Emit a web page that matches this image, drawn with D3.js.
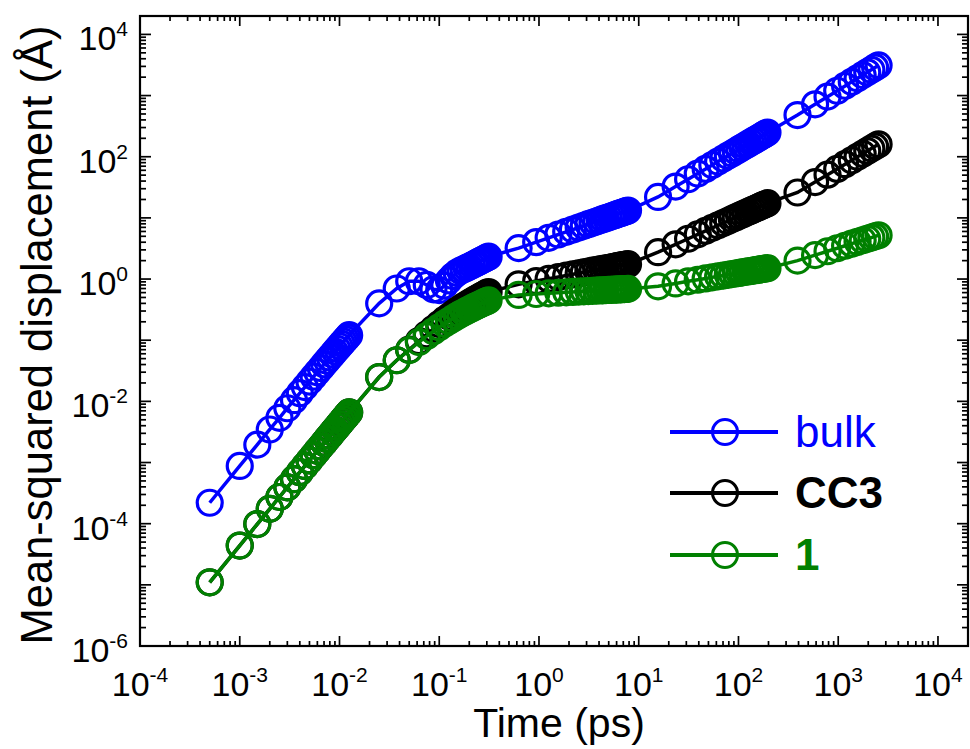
<!DOCTYPE html>
<html><head><meta charset="utf-8">
<script src="https://cdn.jsdelivr.net/npm/d3@7"></script>
<style>body{margin:0;background:#fff}svg{display:block}text{font-family:"Liberation Sans",Arial,sans-serif}</style>
</head><body>
<svg id="c" width="970" height="749"></svg>
<script>
const time = [
0.0005,0.001,0.0015,0.002,0.0025,0.003,0.0035,0.004,0.0045,0.005,0.0055,0.006,0.0065,0.007,0.0075,0.008,0.0085,0.009,0.0095,0.01,0.0105,0.011,0.0115,0.012,0.0125,
0.025,0.0375,0.05,0.0625,0.075,0.0875,0.1,0.1125,0.125,0.1375,0.15,0.1625,0.175,0.1875,0.2,0.2125,0.225,0.2375,0.25,0.2625,0.275,0.2875,0.3,0.3125,
0.625,0.9375,1.25,1.5625,1.875,2.1875,2.5,2.8125,3.125,3.4375,3.75,4.0625,4.375,4.6875,5,5.3125,5.625,5.9375,6.25,6.5625,6.875,7.1875,7.5,7.8125,
15.625,23.4375,31.25,39.0625,46.875,54.6875,62.5,70.3125,78.125,85.9375,93.75,101.5625,109.375,117.1875,125,132.8125,140.625,148.4375,156.25,164.0625,171.875,179.6875,187.5,195.3125,
390.625,585.9375,781.25,976.5625,1171.875,1367.1875,1562.5,1757.8125,1953.125,2148.4375,2343.75,2539.0625];

const bulk = [
2.2e-4,8.8e-4,1.96e-3,3.47e-3,5.39e-3,7.72e-3,1.046e-2,1.359e-2,1.711e-2,2.101e-2,2.529e-2,2.994e-2,3.495e-2,4.032e-2,4.604e-2,5.21e-2,5.849e-2,6.522e-2,7.227e-2,7.964e-2,8.732e-2,9.53e-2,0.1036,0.1121,0.121,
0.40,0.70,0.92,0.92,0.80,0.68,0.66,0.78,0.95,1.12,1.26,1.36,1.44,1.52,1.60,1.68,1.76,1.84,1.92,2.00,2.08,2.16,2.24,2.32,
3.20,4.02,4.72,5.35,5.92,6.45,6.96,7.43,7.88,8.31,8.73,9.13,9.51,9.89,10.25,10.61,10.95,11.29,11.62,11.94,12.26,12.56,12.87,13.16,
22.0,32.5,42.8,53.0,63.2,73.2,83.3,93.2,103.2,113,122.9,132.7,142.5,152.2,162,171.7,181.3,191,200.6,210.3,219.9,229.5,239,248.6,
480,720,960,1200,1440,1680,1920,2160,2400,2640,2880,3120];

const cc3 = [
1.1e-5,4.39e-5,9.86e-5,1.75e-4,2.73e-4,3.926e-4,5.335e-4,6.956e-4,8.789e-4,1.083e-3,1.308e-3,1.554e-3,1.821e-3,2.108e-3,2.416e-3,2.744e-3,3.093e-3,3.461e-3,3.849e-3,4.258e-3,4.686e-3,5.134e-3,5.601e-3,6.088e-3,6.594e-3,
0.025,0.047,0.070,0.097,0.125,0.154,0.184,0.215,0.243,0.272,0.301,0.330,0.358,0.382,0.407,0.431,0.455,0.478,0.502,0.524,0.547,0.570,0.592,0.614,
0.82,0.926,1.009,1.079,1.140,1.194,1.243,1.288,1.329,1.368,1.404,1.438,1.470,1.501,1.530,1.558,1.585,1.611,1.636,1.660,1.684,1.706,1.728,1.749,
2.75,3.70,4.56,5.37,6.13,6.86,7.57,8.25,8.90,9.54,10.17,10.78,11.38,11.97,12.55,13.12,13.68,14.23,14.77,15.30,15.83,16.35,16.87,17.38,
26,38.5,50.9,63.2,75.5,87.6,99.8,111.9,123.9,135.9,147.8,159.8];

const one = [
1.1e-5,4.39e-5,9.86e-5,1.75e-4,2.73e-4,3.926e-4,5.335e-4,6.956e-4,8.789e-4,1.083e-3,1.308e-3,1.554e-3,1.821e-3,2.108e-3,2.416e-3,2.744e-3,3.093e-3,3.461e-3,3.849e-3,4.258e-3,4.686e-3,5.134e-3,5.601e-3,6.088e-3,6.594e-3,
0.025,0.047,0.069,0.093,0.117,0.140,0.163,0.185,0.206,0.227,0.247,0.266,0.284,0.301,0.318,0.334,0.350,0.365,0.380,0.394,0.408,0.422,0.435,0.448,
0.550,0.570,0.585,0.597,0.607,0.616,0.623,0.630,0.636,0.641,0.646,0.651,0.655,0.659,0.663,0.667,0.670,0.674,0.677,0.680,0.682,0.685,0.688,0.690,
0.76,0.848,0.917,0.973,1.022,1.066,1.105,1.141,1.174,1.204,1.233,1.260,1.285,1.309,1.332,1.354,1.375,1.396,1.415,1.434,1.452,1.470,1.487,1.503,
2.00,2.46,2.85,3.19,3.50,3.79,4.06,4.31,4.54,4.77,4.99,5.20];

const seriesNames = ["bulk","CC3","1"];
const seriesColors = ["#0000ff","#000000","#008000"];
const seriesWeights = ["normal","bold","bold"];
const seriesValues = [bulk, cc3, one];

const xTickExps = [-4,-3,-2,-1,0,1,2,3,4];
const yTickExps = [-6,-4,-2,0,2,4];
const xDomain = [1e-4, 2e4];
const yDomain = [1e-6, 2e4];

const L = 140, R = 968, T = 16, B = 646;
const svg = d3.select("#c");
const x = d3.scaleLog().domain(xDomain).range([L, R]);
const y = d3.scaleLog().domain(yDomain).range([B, T]);

function logTicks(dom) {
  const maj = [], min = [];
  const e0 = Math.floor(Math.log10(dom[0])), e1 = Math.ceil(Math.log10(dom[1]));
  for (let e = e0; e <= e1; e++) {
    for (let m = 1; m <= 9; m++) {
      const v = m * Math.pow(10, e);
      if (v < dom[0] * 0.999 || v > dom[1] * 0.999) continue;
      (m === 1 ? maj : min).push(v);
    }
  }
  return {maj, min};
}
const xt = logTicks(xDomain), yt = logTicks(yDomain);
const tk = svg.append("g").attr("stroke", "#000").attr("stroke-width", 1.7);
xt.maj.forEach(v => { const px = x(v);
  tk.append("line").attr("x1", px).attr("x2", px).attr("y1", B).attr("y2", B - 10);
  tk.append("line").attr("x1", px).attr("x2", px).attr("y1", T).attr("y2", T + 10); });
xt.min.forEach(v => { const px = x(v);
  tk.append("line").attr("x1", px).attr("x2", px).attr("y1", B).attr("y2", B - 5);
  tk.append("line").attr("x1", px).attr("x2", px).attr("y1", T).attr("y2", T + 5); });
yt.maj.forEach(v => { const py = y(v);
  tk.append("line").attr("y1", py).attr("y2", py).attr("x1", L).attr("x2", L + 11);
  tk.append("line").attr("y1", py).attr("y2", py).attr("x1", R).attr("x2", R - 11); });
yt.min.forEach(v => { const py = y(v);
  tk.append("line").attr("y1", py).attr("y2", py).attr("x1", L).attr("x2", L + 6);
  tk.append("line").attr("y1", py).attr("y2", py).attr("x1", R).attr("x2", R - 6); });

svg.append("rect").attr("x", L).attr("y", T).attr("width", R - L).attr("height", B - T)
  .attr("fill", "none").attr("stroke", "#000").attr("stroke-width", 2.2);

xTickExps.forEach(e => {
  const t = svg.append("text").attr("x", x(Math.pow(10, e))).attr("y", B + 50)
    .attr("text-anchor", "middle").attr("font-size", 34).attr("fill", "#000");
  t.append("tspan").text("10");
  t.append("tspan").attr("dy", -14).attr("font-size", 21).text(String(e));
});
yTickExps.forEach(e => {
  const t = svg.append("text").attr("x", 128).attr("y", y(Math.pow(10, e)) + 16)
    .attr("text-anchor", "end").attr("font-size", 34).attr("fill", "#000");
  t.append("tspan").text("10");
  t.append("tspan").attr("dy", -14).attr("font-size", 21).text(String(e));
});

svg.append("text").attr("x", 559).attr("y", 737).attr("text-anchor", "middle")
  .attr("font-size", 41).text("Time (ps)");
svg.append("text").attr("transform", "translate(52,335) rotate(-90)").attr("text-anchor", "middle")
  .attr("font-size", 43.5).text("Mean-squared displacement (Å)");

const line = d3.line().x(d => x(d[0])).y(d => y(d[1]));
seriesValues.forEach((vals, i) => {
  const pts = time.map((t, j) => [t, vals[j]]);
  const g = svg.append("g");
  g.append("path").attr("d", line(pts)).attr("fill", "none")
    .attr("stroke", seriesColors[i]).attr("stroke-width", 3.5);
  g.selectAll("circle").data(pts).enter().append("circle")
    .attr("cx", d => x(d[0])).attr("cy", d => y(d[1])).attr("r", 12.5)
    .attr("fill", "none").attr("stroke", seriesColors[i]).attr("stroke-width", 3.2);
});

const legY = [432, 493, 555];
seriesNames.forEach((n, i) => {
  const g = svg.append("g");
  g.append("line").attr("x1", 670).attr("x2", 778).attr("y1", legY[i]).attr("y2", legY[i])
    .attr("stroke", seriesColors[i]).attr("stroke-width", 4);
  g.append("circle").attr("cx", 725).attr("cy", legY[i]).attr("r", 12.5)
    .attr("fill", "none").attr("stroke", seriesColors[i]).attr("stroke-width", 3);
  g.append("text").attr("x", 795).attr("y", legY[i] + 15).attr("font-size", 44)
    .attr("font-weight", seriesWeights[i]).attr("fill", seriesColors[i]).text(n);
});
</script>
</body></html>
